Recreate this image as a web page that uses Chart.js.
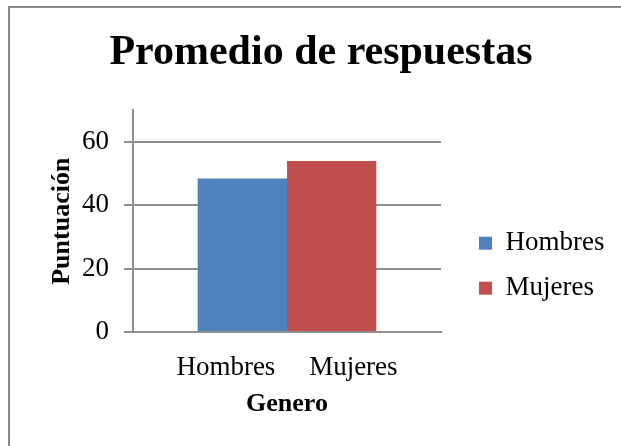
<!DOCTYPE html>
<html>
<head>
<meta charset="utf-8">
<script src="https://cdn.jsdelivr.net/npm/chart.js@4"></script>
<style>
  html, body { margin: 0; padding: 0; background: #fff; overflow: hidden; }
  #wrap { position: relative; width: 621px; height: 446px; }
  #frame { position: absolute; left: 8px; top: 6px; width: 660px; height: 480px; border: 2px solid #8a8a8a; }
  #chart { position: absolute; left: 0; top: 0; }
</style>
</head>
<body>
<div id="wrap">
  <div id="frame"></div>
  <canvas id="chart" width="621" height="446"></canvas>
</div>
<script>
const categories = ['Hombres', 'Mujeres'];
const values = [48.5, 54];
const colors = ['#4F81BD', '#C0504D'];
const yTicks = [0, 20, 40, 60];
const yMax = 70;

const serif = "'Liberation Serif', 'Times New Roman', serif";
const gridColor = '#8f8f8f';

// the built-in legend caps its own width, so widen it after it has measured itself
const legendWidth = {
    id: 'legendWidth',
    afterInit(chart) {
        const legend = chart.legend;
        const fit = legend.fit;
        legend.fit = function () {
            fit.call(this);
            this.width = 150;
        };
    }
};

document.addEventListener('DOMContentLoaded', function () {
    drawChart();
});

function drawChart() {
    const ctx = document.getElementById('chart').getContext('2d');
    // each gender is its own series so the legend shows both, all in one group
    const datasets = categories.map((name, i) => ({
        label: name,
        data: [values[i]],
        backgroundColor: colors[i],
        borderWidth: 0,
        barPercentage: 1,
        categoryPercentage: 0.58
    }));

    new Chart(ctx, {
        type: 'bar',
        data: {
            labels: [categories.join('     ')],
            datasets: datasets
        },
        plugins: [legendWidth],
        options: {
            responsive: false,
            animation: false,
            layout: { padding: { left: 31, right: 10, top: 0, bottom: 26 } },
            plugins: {
                title: {
                    display: true,
                    text: 'Promedio de respuestas',
                    color: '#000',
                    font: { family: serif, size: 42, weight: 'bold' },
                    padding: { top: 28, bottom: 32 }
                },
                legend: {
                    position: 'right',
                    // empty title only pushes the two entries down
                    title: { display: true, text: '', padding: { top: 0, bottom: 97 } },
                    labels: {
                        color: '#000',
                        font: { family: serif, size: 27 },
                        boxWidth: 13,
                        boxHeight: 13,
                        padding: 18
                    }
                },
                tooltip: { enabled: false }
            },
            scales: {
                x: {
                    afterFit: scale => { scale.height = 88; },
                    grid: { display: false },
                    border: { color: gridColor, width: 2 },
                    ticks: { color: '#000', font: { family: serif, size: 27 }, padding: 12 },
                    title: {
                        display: true,
                        text: 'Genero',
                        color: '#000',
                        font: { family: serif, size: 26, weight: 'bold' },
                        padding: 0
                    }
                },
                y: {
                    min: 0,
                    max: yMax,
                    afterBuildTicks: scale => {
                        scale.ticks = yTicks.map(v => ({ value: v }));
                    },
                    afterFit: scale => { scale.width = 102; },
                    grid: { color: gridColor, lineWidth: 2, tickLength: 9 },
                    border: { color: gridColor, width: 2 },
                    ticks: { color: '#000', font: { family: serif, size: 27 }, padding: 15 },
                    title: {
                        display: true,
                        text: 'Puntuación',
                        color: '#000',
                        font: { family: serif, size: 26, weight: 'bold' },
                        padding: { top: 16, bottom: 0 }
                    }
                },
                // empty axis on the right, only keeps a gap before the legend
                gap: {
                    position: 'right',
                    afterFit: scale => { scale.width = 20; },
                    grid: { display: false },
                    border: { display: false },
                    ticks: { display: false }
                }
            }
        }
    });
}
</script>
</body>
</html>
